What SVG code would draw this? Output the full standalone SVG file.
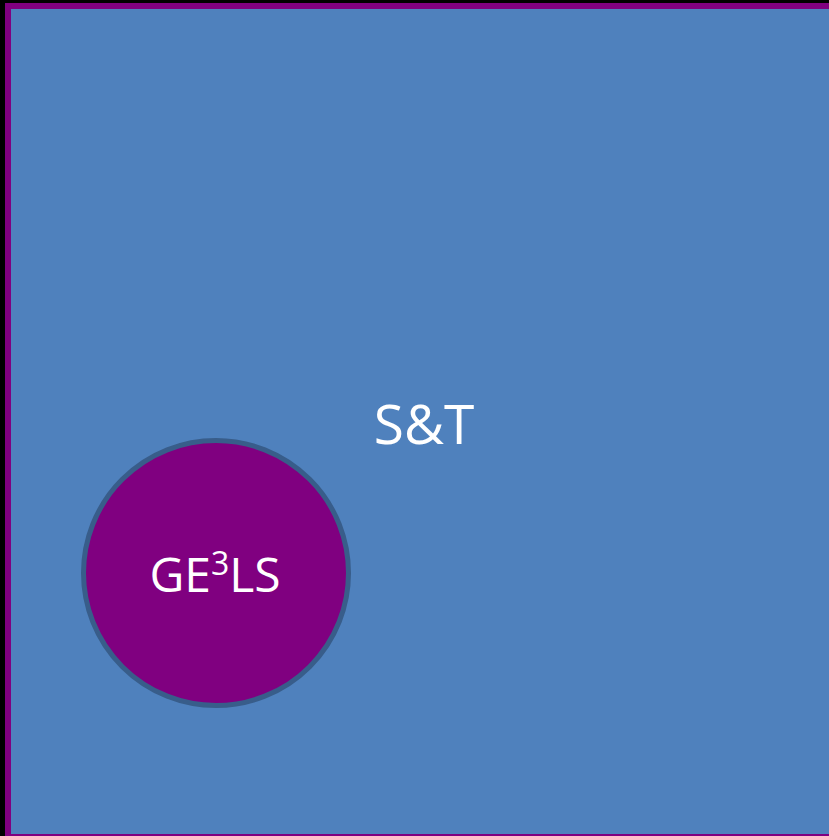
<svg xmlns="http://www.w3.org/2000/svg" width="829" height="836" viewBox="0 0 829 836">
<style>
.lbl{font-family:"Open Sans","Liberation Sans",sans-serif;fill:#ffffff}
</style>
<rect x="0" y="0" width="829" height="836" fill="#000000"/>
<g id="st">
<rect x="5" y="3" width="830" height="840" fill="#800080"/>
<rect x="11" y="9" width="818" height="825" fill="#4f81bd"/>
<text class="lbl" x="424" y="444" font-size="55" text-anchor="middle">S&amp;T</text>
</g>
<g id="ge3ls">
<circle cx="216" cy="573" r="132.5" fill="#800080" stroke="#385d8a" stroke-width="5"/>
<text class="lbl" x="215" y="592" font-size="48" text-anchor="middle">GE<tspan font-size="32" dy="-17">3</tspan><tspan dy="17">LS</tspan></text>
</g>
</svg>
